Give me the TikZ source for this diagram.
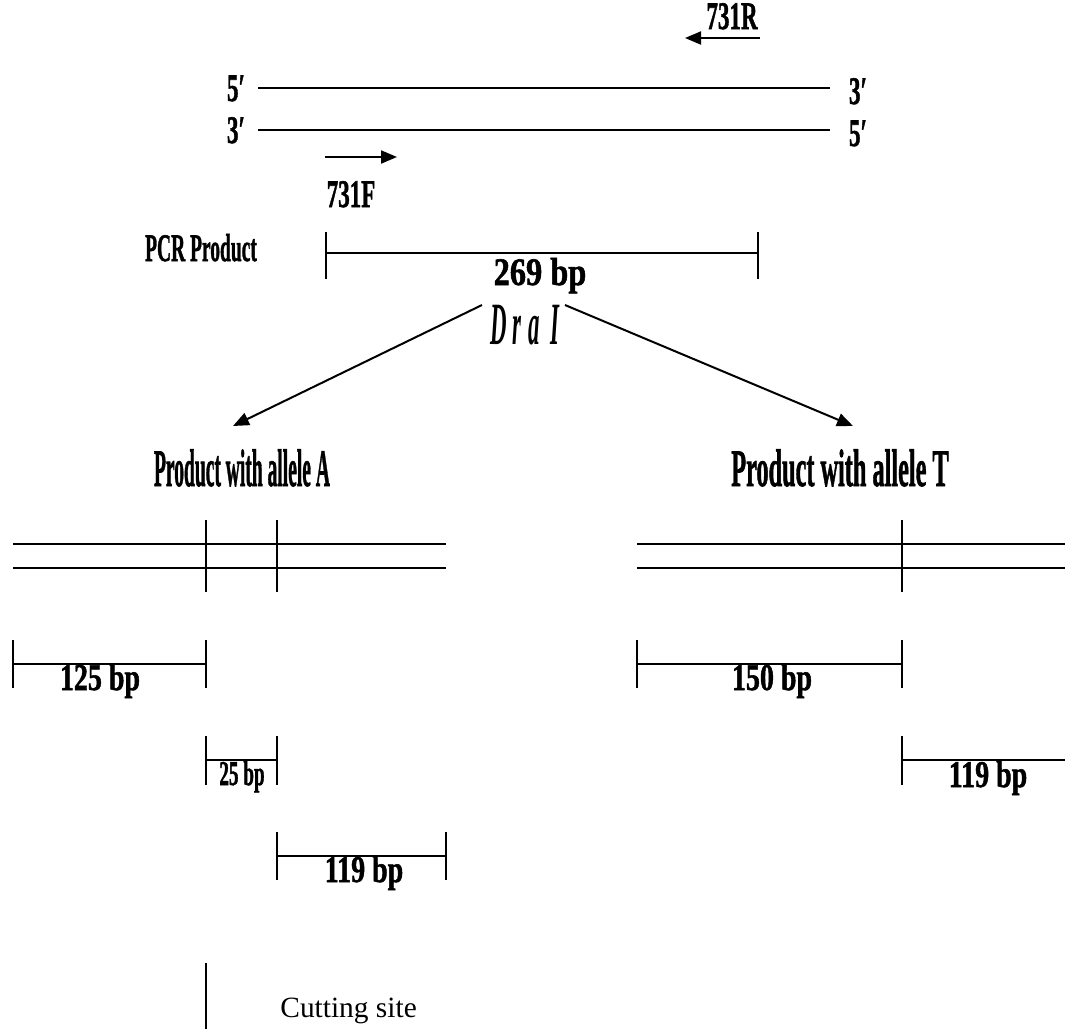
\documentclass[tikz,border=0pt]{standalone}
\usepackage{fontspec}
\setmainfont{Liberation Serif}[BoldFeatures={FakeBold=1.5}]
\usetikzlibrary{arrows.meta}
% squeeze a label sideways, as the bold headings are condensed
\newcommand{\sq}[2]{\scalebox{#1}[1]{#2}}

\begin{document}
\begin{tikzpicture}[
    x=0.5pt, y=-0.5pt,
    every node/.style={inner sep=0pt, anchor=base},
    lab/.style={font=\fontsize{19.5}{20}\selectfont\bfseries},
    frag/.style={font=\fontsize{18.9}{20}\selectfont\bfseries},
    head/.style={font=\fontsize{26.4}{28}\selectfont\bfseries},
    strand/.style={line width=1pt},
    ar/.style={-{Triangle[length=8pt, width=6.5pt]}, line width=1pt}
]
\useasboundingbox (0,0) rectangle (1065,1029);

% Template: double strand with primers
\coordinate (t5) at (258,88);
\coordinate (t3) at (830,88);
\coordinate (b3) at (258,130);
\coordinate (b5) at (830,130);
\draw[strand] (t5) -- (t3);
\draw[strand] (b3) -- (b5);
\node[lab] (top5) at (236,101) {\sq{0.59}{5′}};
\node[lab] (top3) at (858,104) {\sq{0.59}{3′}};
\node[lab] (bot3) at (236,143) {\sq{0.59}{3′}};
\node[lab] (bot5) at (858,146) {\sq{0.59}{5′}};
\coordinate (revS) at (760,38);
\coordinate (revE) at (685,38);
\coordinate (fwdS) at (325,157);
\coordinate (fwdE) at (397,157);
\draw[ar] (revS) -- (revE);
\draw[ar] (fwdS) -- (fwdE);
\node[lab] (rev) at (732,29) {\sq{0.59}{731R}};
\node[lab] (fwd) at (351,207) {\sq{0.59}{731F}};

% PCR product
\node[lab] (pcr) at (201,261) {\sq{0.5}{PCR Product}};
\coordinate (pcrL) at (326,253);
\coordinate (pcrR) at (758,253);
\draw[strand] (pcrL) -- (pcrR);
\draw[strand] (pcrL) ++(0,-21) -- ++(0,47);
\draw[strand] (pcrR) ++(0,-21) -- ++(0,47);
\node[lab] (len) at (540,285) {\sq{0.83}{269 bp}};
\node[font=\fontsize{30}{32}\selectfont\bfseries\itshape] (dra) at (525,344) {\sq{0.38}{D\;r\;a\ \ I}};

% Digestion
\coordinate (dl) at (482,305);
\coordinate (dr) at (565,305);
\coordinate (toA) at (233,426);
\coordinate (toT) at (853,426);
\draw[ar] (dl) -- (toA);
\draw[ar] (dr) -- (toT);
\node[head] (alA) at (242,486) {\sq{0.37}{Product with allele A}};
\node[head] (alT) at (840,486) {\sq{0.46}{Product with allele T}};

% Left: allele A, two cutting sites
\coordinate (a1) at (13,544);  \coordinate (a2) at (446,544);
\coordinate (a3) at (13,568);  \coordinate (a4) at (446,568);
\coordinate (cutA1) at (205.5,520);
\coordinate (cutA2) at (277.3,520);
\draw[strand] (a1) -- (a2);
\draw[strand] (a3) -- (a4);
\draw[strand] (cutA1) -- ++(0,72);
\draw[strand] (cutA2) -- ++(0,72);

% Right: allele T, one cutting site
\coordinate (c1) at (637,544);  \coordinate (c2) at (1065,544);
\coordinate (c3) at (637,568);  \coordinate (c4) at (1065,568);
\coordinate (cutT) at (902,520);
\draw[strand] (c1) -- (c2);
\draw[strand] (c3) -- (c4);
\draw[strand] (cutT) -- ++(0,72);

% Fragments of allele A
\coordinate (f1L) at (13,664);    \coordinate (f1R) at (205.5,664);
\coordinate (f2L) at (205.5,760); \coordinate (f2R) at (277.3,760);
\coordinate (f3L) at (277.3,856); \coordinate (f3R) at (446,856);
\draw[strand] (f1L) -- (f1R);
\draw[strand] (f1L) ++(0,-24) -- ++(0,48);
\draw[strand] (f1R) ++(0,-24) -- ++(0,48);
\draw[strand] (f2L) -- (f2R);
\draw[strand] (f2L) ++(0,-24) -- ++(0,49);
\draw[strand] (f2R) ++(0,-24) -- ++(0,49);
\draw[strand] (f3L) -- (f3R);
\draw[strand] (f3L) ++(0,-24) -- ++(0,48);
\draw[strand] (f3R) ++(0,-24) -- ++(0,48);
\node[frag] (s125) at (100,690) {\sq{0.74}{125 bp}};
\node[font=\fontsize{17.4}{18}\selectfont\bfseries] (s25) at (242,785) {\sq{0.55}{25 bp}};
\node[frag] (s119a) at (364,882) {\sq{0.74}{119 bp}};

% Fragments of allele T
\coordinate (g1L) at (637,664); \coordinate (g1R) at (902,664);
\coordinate (g2L) at (902,760); \coordinate (g2R) at (1065,760);
\draw[strand] (g1L) -- (g1R);
\draw[strand] (g1L) ++(0,-24) -- ++(0,48);
\draw[strand] (g1R) ++(0,-24) -- ++(0,48);
\draw[strand] (g2L) -- (g2R);
\draw[strand] (g2L) ++(0,-24) -- ++(0,49);
\node[frag] (s150) at (772,690) {\sq{0.74}{150 bp}};
\node[frag] (s119t) at (988,787) {\sq{0.74}{119 bp}};

% Key
\coordinate (keyT) at (205.5,963);
\coordinate (keyB) at (205.5,1029);
\draw[strand] (keyT) -- (keyB);
\node[anchor=base west, font=\fontsize{14.7}{16}\selectfont] (key) at (280,1017) {Cutting site};
\end{tikzpicture}
\end{document}
